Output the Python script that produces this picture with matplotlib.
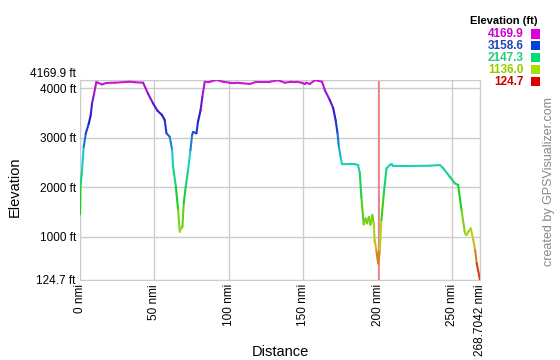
import matplotlib
matplotlib.use('Agg')
import matplotlib.pyplot as plt
import numpy as np
from matplotlib.collections import LineCollection
from matplotlib.colors import hsv_to_rgb
from matplotlib.patches import Rectangle

plt.rcParams['font.family'] = ['Liberation Sans', 'DejaVu Sans']

# profile
dist_nmi = [0, 0.3, 1.4, 2.5, 3.9, 5.9, 7.2, 8.1, 9.5, 11.0, 12.4, 14.8, 17.7, 23.3,
            33.4, 36.8, 42.4, 45.6, 49.0, 52.0, 55.1, 56.9, 58.1, 60.3, 61.9, 62.5,
            64.4, 65.9, 67.0, 67.6, 68.8, 69.7, 71.0, 72.6, 74.2, 75.3, 76.0, 78.2,
            79.3, 81.0, 82.2, 83.8, 87.1, 91.7, 96.1, 100.6, 105.1, 114.1, 118.6,
            127.5, 133.1, 137.6, 142.0, 145.4, 148.8, 151.0, 152.1, 154.4, 157.7,
            159.9, 162.6, 164.4, 167.8, 170.1, 171.7, 173.0, 173.9, 175.2, 176.0,
            179.0, 184.6, 186.8, 187.9, 189.0, 190.6, 191.9, 192.8, 194.1, 195.0,
            196.4, 197.3, 197.9, 199.2, 200.3, 201.4, 202.5, 204.1, 205.9, 208.2,
            209.3, 210.4, 221.6, 235.0, 241.7, 244.0, 248.4, 251.8, 254.0, 256.3,
            258.6, 259.7, 260.8, 262.5, 264.2, 265.4, 266.5, 268.7042]
elev_ft = [1450, 2010, 2350, 2820, 3090, 3290, 3460, 3700, 3900, 4130, 4110, 4080, 4110, 4115,
           4135, 4125, 4115, 3900, 3700, 3550, 3460, 3360, 3090, 3020, 2750, 2420,
           2010, 1540, 1100, 1150, 1200, 1680, 2010, 2350, 2750, 3060, 3120, 3090,
           3330, 3560, 3830, 4135, 4135, 4169.9, 4135, 4115, 4115, 4090, 4135,
           4135, 4165, 4115, 4135, 4135, 4115, 4090, 4115, 4090, 4165,
           4155, 4135, 3970, 3765, 3600, 3360, 3090, 2820, 2585, 2470,
           2465, 2465, 2450, 2300, 1800, 1250, 1370, 1270, 1400, 1240,
           1440, 1270, 930, 700, 460, 730, 1340, 1880, 2385, 2450,
           2470, 2430, 2430, 2437, 2450, 2385, 2214, 2080, 2046, 1540,
           1068, 1035, 1100, 1170, 934, 731, 462, 124.7]

y_min, y_max = 124.7, 4169.9
x_max = 268.7042
y_ticks = [124.7, 1000, 2000, 3000, 4000, 4169.9]
y_labels = ['124.7 ft', '1000 ft', '2000 ft', '3000 ft', '4000 ft', '4169.9 ft']
x_ticks = [0, 50, 100, 150, 200, 250, 268.7042]
x_labels = ['0 nmi', '50 nmi', '100 nmi', '150 nmi', '200 nmi', '250 nmi', '268.7042 nmi']
marker_nmi = 200.7

legend_vals = ['4169.9', '3158.6', '2147.3', '1136.0', '124.7']
legend_box = ['#dd00dd', '#0044dd', '#00dd77', '#aadd00', '#dd0000']
legend_txt = ['#cc00cc', '#2244bb', '#22cc77', '#99cc00', '#cc0000']


def elev_color(v):
    frac = (v - y_min) / (y_max - y_min)
    return hsv_to_rgb([frac * 300 / 360, 0.88, 0.82])


fig = plt.figure(figsize=(5.6, 3.6), dpi=100)
ax = fig.add_axes([80 / 560, 1 - 280 / 360, 400 / 560, 200 / 360])

x = np.array(dist_nmi)
y = np.array(elev_ft)
pts = np.column_stack([x, y]).reshape(-1, 1, 2)
segs = np.concatenate([pts[:-1], pts[1:]], axis=1)
cols = [elev_color(v) for v in (y[:-1] + y[1:]) / 2]
ax.add_collection(LineCollection(segs, colors=cols, linewidths=1.5,
                                 capstyle='round', joinstyle='round', zorder=3))

ax.axvline(marker_nmi, color='#f07070', lw=1.1, zorder=2.5)

ax.set_xlim(0, x_max)
ax.set_ylim(y_min, y_max)
ax.set_xticks(x_ticks)
ax.set_xticklabels(x_labels, rotation=90, fontsize=8.5)
ax.set_yticks(y_ticks)
ax.set_yticklabels(y_labels, fontsize=8.5)
ax.get_yticklabels()[-1].set_verticalalignment('bottom')
ax.tick_params(length=0, pad=3)
ax.grid(True, color='#cccccc', lw=1)
for s in ax.spines.values():
    s.set_color('#cccccc')
ax.set_axisbelow(True)

fig.text(280 / 560, 1 - 352 / 360, 'Distance', ha='center', va='center', fontsize=10.5)
fig.text(15 / 560, 1 - 187 / 360, 'Elevation', rotation=90, ha='center', va='center',
         fontsize=10.5)

# legend
fig.text(537 / 560, 1 - 21 / 360, 'Elevation (ft)', ha='right', va='center',
         fontsize=8, fontweight='bold')
for i, (val, bc, tc) in enumerate(zip(legend_vals, legend_box, legend_txt)):
    yy = 34 + i * 11.9
    fig.text(524 / 560, 1 - yy / 360, val, ha='right', va='center',
             fontsize=8.5, fontweight='bold', color=tc)
    fig.patches.append(Rectangle((531 / 560, 1 - (yy + 4.5) / 360), 9 / 560, 9 / 360,
                                 transform=fig.transFigure, color=bc, lw=0))

fig.text(549 / 560, 1 - 182 / 360, 'created by GPSVisualizer.com', rotation=90,
         ha='center', va='center', fontsize=9, color='#888888')

fig.savefig('out.png', dpi=100)
